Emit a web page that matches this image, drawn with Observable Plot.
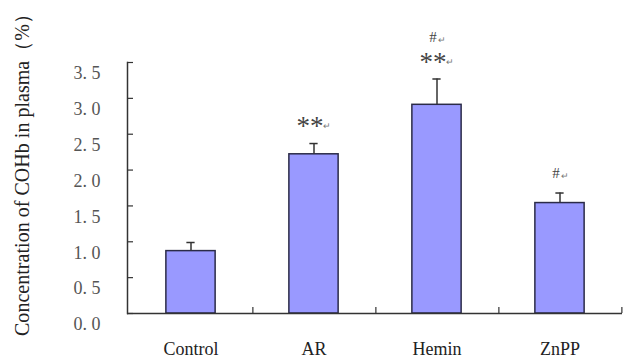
<!DOCTYPE html>
<html>
<head>
<meta charset="utf-8">
<script src="https://cdn.jsdelivr.net/npm/d3@7"></script>
<script src="https://cdn.jsdelivr.net/npm/@observablehq/plot@0.6"></script>
<style>
  html, body { margin: 0; padding: 0; background: #fff; }
  #chart { width: 624px; height: 360px; }
</style>
</head>
<body>
<div id="chart"></div>
<script>
// Plasma COHb concentration by treatment group (mean + error)
const groups = ["Control", "AR", "Hemin", "ZnPP"];
const means = [0.87, 2.22, 2.91, 1.54];
const errors = [0.12, 0.15, 0.36, 0.14];
// significance marks: ** vs control, # vs AR
const starMarks = ["", "**", "**", ""];
const hashMarks = ["", "", "#", "#"];
const yTicks = [0, 0.5, 1.0, 1.5, 2.0, 2.5, 3.0, 3.5];
const yTitle = "Concentration of COHb in plasma（%）";

const data = groups.map((g, i) => ({
  group: g, mean: means[i], err: errors[i], top: means[i] + errors[i],
  star: starMarks[i], hash: hashMarks[i]
}));

const W = 624, H = 360;
const mL = 127, mR = 2, mT = 62, mB = 47;
const frameW = W - mL - mR;
const band = frameW / groups.length;
const barW = 50, capW = 9, tickLen = 6;
const ink = "#333";
const font = "Liberation Serif, Times New Roman, serif";

// ** sits just above the error bar; # sits above the ** when both are present
const stars = data.filter(d => d.star);
const hashLow = data.filter(d => d.hash && !d.star);
const hashHigh = data.filter(d => d.hash && d.star);

const ret = () => "↵";
const starText = (rows) => [
  Plot.text(rows, {x: "group", y: "top", text: "star", dy: -17, dx: -4, fontSize: 27, fill: "#444"}),
  Plot.text(rows, {x: "group", y: "top", text: ret, dy: -17, dx: 13, fontSize: 9, fill: "#777"})
];
const hashText = (rows, dy) => [
  Plot.text(rows, {x: "group", y: "top", text: "hash", dy, dx: -4, fontSize: 15, fill: "#444"}),
  Plot.text(rows, {x: "group", y: "top", text: ret, dy: dy + 3, dx: 5, fontSize: 9, fill: "#777"})
];

const chart = Plot.plot({
  width: W, height: H,
  marginLeft: mL, marginRight: mR, marginTop: mT, marginBottom: mB,
  style: {fontFamily: font, background: "#fff"},
  x: {domain: groups, padding: 0, axis: null},
  y: {domain: [0, 3.5], axis: null},
  marks: [
    // bars
    Plot.barY(data, {x: "group", y: "mean", fill: "#9999ff", stroke: "#2b2b48", strokeWidth: 1.5,
      insetLeft: (band - barW) / 2, insetRight: (band - barW) / 2}),
    // upper error bars with caps
    Plot.ruleX(data, {x: "group", y1: "mean", y2: "top", stroke: ink, strokeWidth: 1.5}),
    Plot.tickY(data, {x: "group", y: "top", stroke: ink, strokeWidth: 1.5,
      insetLeft: (band - capW) / 2, insetRight: (band - capW) / 2}),
    // axis lines
    Plot.ruleY([0], {stroke: ink, strokeWidth: 1.5}),
    Plot.frame({anchor: "left", stroke: ink, strokeWidth: 1.5}),
    // inward y ticks
    Plot.ruleY(yTicks, {y: d => d, stroke: ink, strokeWidth: 1.2, insetRight: frameW - tickLen}),
    // group separator ticks on the x axis
    Plot.ruleX(groups, {x: d => d, dx: band / 2, y1: 0, y2: tickLen / 72, stroke: ink, strokeWidth: 1.2}),
    // tick labels
    Plot.axisY({ticks: yTicks, tickSize: 0, tickPadding: 27, dy: 11, fontSize: 18, fill: "#555",
      tickFormat: d => d.toFixed(1).replace(".", ". "), label: null}),
    Plot.axisX({tickSize: 0, tickPadding: 29, fontSize: 18, fill: "#222", label: null}),
    // significance labels
    ...starText(stars),
    ...hashText(hashLow, -20),
    ...hashText(hashHigh, -42)
  ]
});

// rotated y-axis title
d3.select(chart).append("text")
  .attr("transform", "translate(29,170) rotate(-90)")
  .attr("text-anchor", "middle")
  .attr("font-family", font)
  .attr("font-size", 20)
  .attr("fill", "#222")
  .attr("textLength", 332)
  .attr("lengthAdjust", "spacing")
  .text(yTitle);

document.getElementById("chart").appendChild(chart);
</script>
</body>
</html>
